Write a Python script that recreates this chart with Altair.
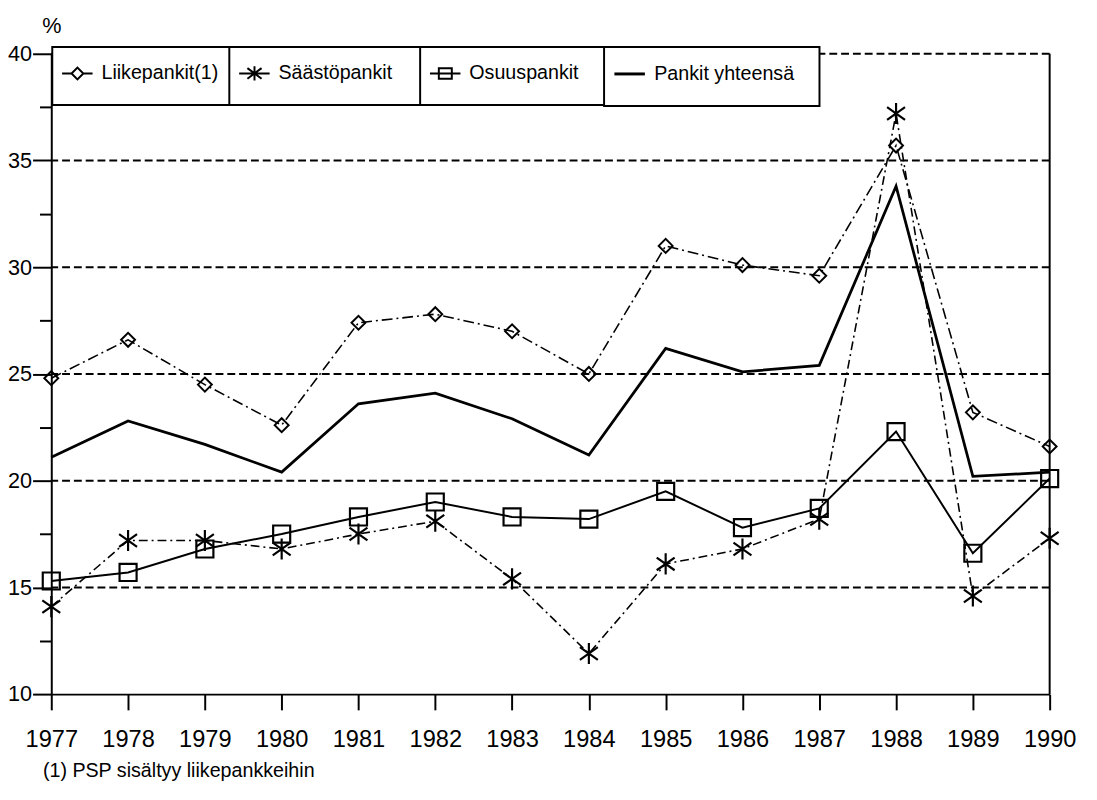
import altair as alt
import pandas as pd

# ---- data ----
years = list(range(1977, 1991))
liike = [24.8, 26.6, 24.5, 22.6, 27.4, 27.8, 27.0, 25.0, 31.0, 30.1, 29.6, 35.7, 23.2, 21.6]
saasto = [14.1, 17.2, 17.2, 16.8, 17.5, 18.1, 15.4, 11.9, 16.1, 16.8, 18.2, 37.2, 14.6, 17.3]
osuus = [15.3, 15.7, 16.8, 17.5, 18.3, 19.0, 18.3, 18.2, 19.5, 17.8, 18.7, 22.3, 16.6, 20.1]
yhteensa = [21.1, 22.8, 21.7, 20.4, 23.6, 24.1, 22.9, 21.2, 26.2, 25.1, 25.4, 33.8, 20.2, 20.4]
series_names = ["Liikepankit(1)", "Säästöpankit", "Osuuspankit", "Pankit yhteensä"]
y_ticks = [10, 12.5, 15, 17.5, 20, 22.5, 25, 27.5, 30, 32.5, 35, 37.5, 40]
grid_values = [15, 20, 25, 30, 35, 40]
y_title = "%"
footnote = "(1) PSP sisältyy liikepankkeihin"

FONT = "Liberation Sans, Arial, sans-serif"


def frame(name, values):
    return pd.DataFrame({"year": years, "value": values, "series": name})


x_enc = alt.X(
    "year:Q",
    scale=alt.Scale(domain=[1977, 1990], nice=False, zero=False),
    axis=alt.Axis(
        values=years, format="d", grid=False, labelOverlap=False, labelBound=False,
        labelFlush=False,
        domainColor="black", domainWidth=2,
        tickColor="black", tickWidth=2, tickSize=16,
        labelFont=FONT, labelFontSize=24, labelColor="black", labelPadding=18,
        title=footnote, titleFont=FONT, titleFontSize=20, titleFontWeight="normal",
        titleColor="black", titleAnchor="start", titleAlign="left",
        titleBaseline="middle", titleX=-9, titleY=78,
    ),
)
y_enc = alt.Y(
    "value:Q",
    scale=alt.Scale(domain=[10, 40], nice=False, zero=False),
    axis=alt.Axis(
        values=y_ticks, grid=False, labelOverlap=False, labelFlush=False,
        labelExpr="datum.value % 5 == 0 ? datum.label : ''",
        domainColor="black", domainWidth=2,
        tickColor="black", tickWidth=2,
        tickSize={"condition": {"test": "datum.value % 5 == 0", "value": 19}, "value": 12},
        labelFont=FONT, labelFontSize=22, labelColor="black", labelPadding=1,
        title=y_title, titleFont=FONT, titleFontSize=22, titleFontWeight="normal",
        titleColor="black", titleAngle=0, titleAlign="center", titleBaseline="middle",
        titleX=0, titleY=-29,
    ),
)

# legend symbol paths (line with marker); the leading moves fix the symbol box
P_EXT = "M0,-1.1M0,1.1"
SYM_DIAMOND = P_EXT + "M-0.85,0L-0.37,0M0.23,0L0.7,0M-0.37,0L-0.07,-0.3L0.23,0L-0.07,0.3Z"
SYM_STAR = P_EXT + "M-0.85,0L0.7,0M-0.07,-0.36L-0.07,0.36M-0.43,-0.27L0.29,0.27M-0.43,0.27L0.29,-0.27"
SYM_SQUARE = P_EXT + "M-0.85,0L0.7,0M-0.4,-0.27L0.26,-0.27L0.26,0.27L-0.4,0.27Z"
SYM_LINE = "M0,-1M0,1M-0.85,0L0.7,0"

LEG_X = [1, 181, 375, 562]
LEG_FILL = [9, 24, 20, 18]   # blank room at the right end of each legend cell


def legend(i, sym, sw):
    return alt.Legend(
        orient="none", legendX=LEG_X[i], legendY=-7, direction="horizontal",
        title=".", titleOrient="right", titlePadding=LEG_FILL[i], titleColor="white",
        titleFontSize=4, titleFont=FONT,
        strokeColor="black", fillColor="white", padding=6,
        labelFont=FONT, labelFontSize=20, labelColor="black", labelLimit=400,
        labelOffset=2,
        symbolType=sym, symbolSize=40 * 40, symbolStrokeWidth=sw, symbolOpacity=1,
        symbolStrokeColor="black", symbolFillColor="white",
    )


def color(i, sym, sw):
    return alt.Color("series:N", scale=alt.Scale(range=["black"]), legend=legend(i, sym, sw))


df1 = frame(series_names[0], liike)
df2 = frame(series_names[1], saasto)
df3 = frame(series_names[2], osuus)
df4 = frame(series_names[3], yhteensa)

s1 = alt.layer(
    alt.Chart(df1).mark_line(color="black", strokeWidth=1.6, strokeDash=[11, 4, 2, 4]).encode(x=x_enc, y=y_enc),
    alt.Chart(df1).mark_point(shape="diamond", filled=False, size=200, strokeWidth=2, opacity=1)
    .encode(x=x_enc, y=y_enc, color=color(0, SYM_DIAMOND, 2)),
)
STAR = "M0,-1L0,1M-0.85,-0.6L0.85,0.6M-0.85,0.6L0.85,-0.6"
s2 = alt.layer(
    alt.Chart(df2).mark_line(color="black", strokeWidth=1.6, strokeDash=[9, 4, 2, 4]).encode(x=x_enc, y=y_enc),
    alt.Chart(df2).mark_point(shape=STAR, filled=False, size=460, strokeWidth=2.2, opacity=1)
    .encode(x=x_enc, y=y_enc, color=color(1, SYM_STAR, 2)),
)
s3 = alt.layer(
    alt.Chart(df3).mark_line(color="black", strokeWidth=2).encode(x=x_enc, y=y_enc),
    alt.Chart(df3).mark_point(shape="square", filled=False, size=300, strokeWidth=2.2, opacity=1)
    .encode(x=x_enc, y=y_enc, color=color(2, SYM_SQUARE, 2)),
)
s4 = alt.Chart(df4).mark_line(strokeWidth=2.8, opacity=1).encode(
    x=x_enc, y=y_enc, color=color(3, SYM_LINE, 3)
)

grid = alt.Chart(pd.DataFrame({"value": grid_values})).mark_rule(
    color="black", strokeWidth=2, strokeDash=[8, 4]
).encode(y=y_enc)

right_edge = alt.Chart(pd.DataFrame({"year": [years[-1]]})).mark_rule(
    color="black", strokeWidth=2
).encode(x=x_enc)

chart = (
    alt.layer(grid, s1, s2, s3, s4, right_edge)
    .resolve_scale(color="independent")
    .properties(
        width=1015, height=651,
        autosize=alt.AutoSizeParams(type="none"),
        padding={"left": 44, "top": 40, "right": 40, "bottom": 95},
        background="white",
    )
    .configure_view(stroke=None)
    .configure_legend(strokeWidth=2)
)

chart.save("out.html", embed_options={"renderer": "svg", "actions": False})
